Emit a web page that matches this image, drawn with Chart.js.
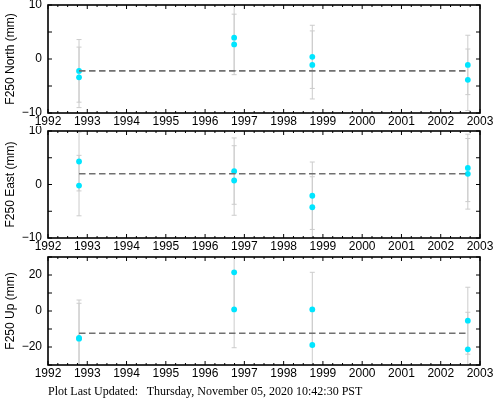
<!DOCTYPE html>
<html>
<head>
<meta charset="utf-8">
<script src="https://cdn.jsdelivr.net/npm/chart.js@4.4.1/dist/chart.umd.min.js"></script>
<style>
  html, body { margin: 0; padding: 0; background: #fff; }
  body { width: 493px; height: 404px; position: relative; overflow: hidden; }
  .panel { position: absolute; left: 0; width: 493px; }
  #footer {
    position: absolute; left: 48px; top: 384px;
    font-family: 'Liberation Serif', 'Times New Roman', serif; font-size: 12px;
    white-space: pre; color: #000;
  }
</style>
</head>
<body>
<div class="panel" style="top:0px;height:127px"><canvas id="north"></canvas></div>
<div class="panel" style="top:126px;height:126px"><canvas id="east"></canvas></div>
<div class="panel" style="top:252px;height:127px"><canvas id="up"></canvas></div>
<div id="footer">Plot Last Updated:   Thursday, November 05, 2020 10:42:30 PST</div>

<script>
// epochs of the two solutions per campaign (decimal years)
const epochs = [1992.79, 1992.79, 1996.74, 1996.74, 1998.73, 1998.73, 2002.69, 2002.69]
const yearTicks = [1992, 1993, 1994, 1995, 1996, 1997, 1998, 1999, 2000, 2001, 2002, 2003]

const north = [-2.2, -3.4, 3.95, 2.7, 0.4, -1.1, -1.1, -3.85]
const northErr = [5.8, 5.6, 6.1, 5.6, 5.85, 6.3, 5.5, 5.7]
const northMean = -2.2
const northTicks = [-10, 0, 10]

const east = [4.3, -0.2, 2.5, 0.75, -2.1, -4.25, 3.1, 2.0]
const eastErr = [5.5, 5.65, 6.2, 6.5, 6.3, 5.7, 6.3, 6.6]
const eastMean = 2.0
const eastTicks = [-10, 0, 10]

const up = [-15.0, -15.4, 21.5, 0.9, 0.9, -18.9, -5.4, -21.3]
const upErr = [21.1, 19.7, 20.5, 21.3, 20.6, 20.0, 18.6, 20.6]
const upMean = -12.4
const upTicks = [-20, 0, 20]

const FONT = { family: "'Liberation Sans', Arial, sans-serif", size: 12 }

// error bars + gnuplot-like frame with inward ticks
const gnuplotLook = {
  id: 'gnuplotLook',
  beforeDatasetsDraw(chart, args, opts) {
    const ctx = chart.ctx
    const area = chart.chartArea
    const xs = chart.scales.x
    const ys = chart.scales.y
    ctx.save()
    ctx.beginPath()
    ctx.rect(area.left, area.top, area.right - area.left, area.bottom - area.top)
    ctx.clip()
    ctx.strokeStyle = '#cccccc'
    ctx.lineWidth = 1
    opts.values.forEach((v, i) => {
      const x = xs.getPixelForValue(epochs[i])
      const y1 = ys.getPixelForValue(v + opts.errors[i])
      const y2 = ys.getPixelForValue(v - opts.errors[i])
      ctx.beginPath()
      ctx.moveTo(x, y1); ctx.lineTo(x, y2)
      ctx.moveTo(x - 2.5, y1); ctx.lineTo(x + 2.5, y1)
      ctx.moveTo(x - 2.5, y2); ctx.lineTo(x + 2.5, y2)
      ctx.stroke()
    })
    ctx.restore()
  },
  afterDraw(chart, args, opts) {
    const ctx = chart.ctx
    const a = chart.chartArea
    const xs = chart.scales.x
    const ys = chart.scales.y
    ctx.save()
    ctx.strokeStyle = '#000'
    ctx.lineWidth = 1
    ctx.beginPath()
    for (let t = xs.min; t <= xs.max + 1e-9; t += 0.25) {
      const x = xs.getPixelForValue(t)
      const len = Math.abs(t - Math.round(t)) < 1e-6 ? 4 : 2
      ctx.moveTo(x, a.bottom); ctx.lineTo(x, a.bottom - len)
      ctx.moveTo(x, a.top); ctx.lineTo(x, a.top + len)
    }
    for (let v = ys.min; v <= ys.max + 1e-9; v += opts.minor) {
      const y = ys.getPixelForValue(v)
      ctx.moveTo(a.left, y); ctx.lineTo(a.left + 4, y)
      ctx.moveTo(a.right, y); ctx.lineTo(a.right - 4, y)
    }
    ctx.stroke()
    ctx.lineWidth = 1.6
    ctx.strokeRect(a.left, a.top, a.right - a.left, a.bottom - a.top)
    ctx.restore()
  }
}

function makePanel(id, title, values, errors, mean, yMin, yMax, yTicks, minor) {
  const points = values.map((v, i) => ({ x: epochs[i], y: v }))
  const meanLine = [
    { x: epochs[0], y: mean },
    { x: epochs[epochs.length - 1], y: mean }
  ]
  return new Chart(document.getElementById(id), {
    type: 'scatter',
    data: {
      datasets: [
        {
          type: 'line',
          data: meanLine,
          borderColor: '#707070',
          borderWidth: 1.6,
          borderDash: [6.5, 3.5],
          pointRadius: 0,
          fill: false,
        },
        {
          data: points,
          backgroundColor: '#00e5ff',
          borderColor: '#00e5ff',
          pointRadius: 2.9,
          borderWidth: 0,
        },
      ],
    },
    options: {
      responsive: true,
      maintainAspectRatio: false,
      animation: false,
      layout: { padding: { top: 5, right: 13, left: 0, bottom: 0 } },
      plugins: {
        legend: { display: false },
        tooltip: { enabled: false },
        gnuplotLook: { values: values, errors: errors, minor: minor },
      },
      scales: {
        x: {
          type: 'linear',
          min: 1992,
          max: 2003,
          grid: { display: false, drawTicks: false },
          border: { display: false },
          afterBuildTicks: s => { s.ticks = yearTicks.map(v => ({ value: v })) },
          afterFit: s => { s.height = 14; s.paddingLeft = 0; s.paddingRight = 0 },
          ticks: {
            color: '#000',
            font: FONT,
            padding: 1,
            maxRotation: 0,
            autoSkip: false,
            callback: v => String(v),
          },
        },
        y: {
          min: yMin,
          max: yMax,
          grid: { display: false, drawTicks: false },
          border: { display: false },
          afterBuildTicks: s => { s.ticks = yTicks.map(v => ({ value: v })) },
          afterFit: s => { s.width = 48; s.paddingTop = 0; s.paddingBottom = 0 },
          title: { display: true, text: title, color: '#000', font: FONT, padding: { top: 3, bottom: 0 } },
          ticks: {
            color: '#000',
            font: FONT,
            padding: 6,
            callback: v => String(v).replace('-', '\u2212'),
          },
        },
      },
    },
    plugins: [gnuplotLook],
  })
}

makePanel('north', 'F250 North (mm)', north, northErr, northMean, -10, 10, northTicks, 5)
makePanel('east', 'F250 East (mm)', east, eastErr, eastMean, -10, 10, eastTicks, 5)
makePanel('up', 'F250 Up (mm)', up, upErr, upMean, -30, 30, upTicks, 10)
</script>
</body>
</html>
